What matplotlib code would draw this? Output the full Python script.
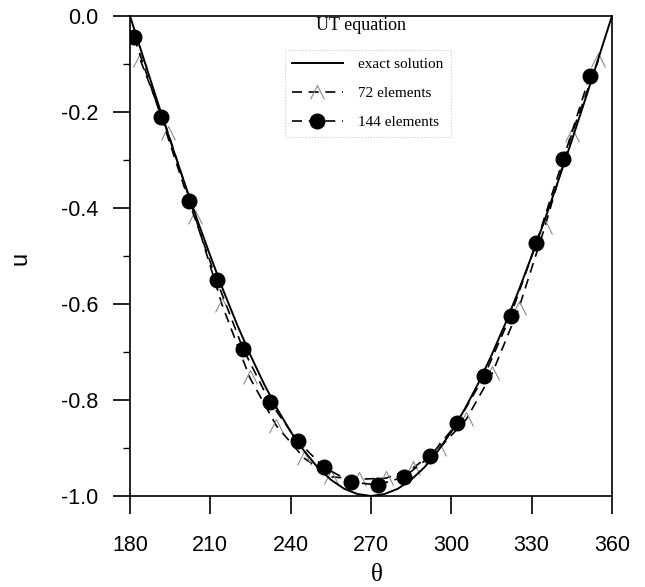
import matplotlib
matplotlib.use("Agg")
import matplotlib.pyplot as plt
from matplotlib.ticker import MultipleLocator

plt.rcParams["axes.unicode_minus"] = False

# exact solution sampled every 5 degrees
theta_exact = [180, 185, 190, 195, 200, 205, 210, 215, 220, 225, 230, 235, 240,
               245, 250, 255, 260, 265, 270, 275, 280, 285, 290, 295, 300, 305,
               310, 315, 320, 325, 330, 335, 340, 345, 350, 355, 360]
u_exact = [0.0, -0.087, -0.174, -0.259, -0.342, -0.423, -0.500, -0.574, -0.643,
           -0.707, -0.766, -0.819, -0.866, -0.906, -0.940, -0.966, -0.985, -0.996,
           -1.000, -0.996, -0.985, -0.966, -0.940, -0.906, -0.866, -0.819, -0.766,
           -0.707, -0.643, -0.574, -0.500, -0.423, -0.342, -0.259, -0.174, -0.087, 0.0]

# 72-element solution
theta_72 = [183.9, 194.3, 204.4, 214.4, 224.7, 234.7, 245.0, 255.0, 265.5,
            275.5, 285.6, 295.3, 305.6, 315.3, 325.2, 334.9, 344.9, 354.9]
u_72 = [-0.092, -0.244, -0.419, -0.602, -0.753, -0.854, -0.921, -0.960, -0.965,
        -0.963, -0.942, -0.902, -0.840, -0.744, -0.609, -0.440, -0.247, -0.092]

# 144-element solution
theta_144 = [181.5, 191.7, 202.0, 212.4, 222.2, 232.2, 242.7, 252.4, 262.6,
             272.5, 282.5, 292.2, 302.2, 312.2, 322.1, 331.8, 341.8, 351.7]
u_144 = [-0.044, -0.211, -0.386, -0.551, -0.693, -0.804, -0.886, -0.940, -0.971,
         -0.977, -0.960, -0.917, -0.848, -0.751, -0.625, -0.472, -0.298, -0.125]

x_ticks = [180, 210, 240, 270, 300, 330, 360]
y_ticks = [0.0, -0.2, -0.4, -0.6, -0.8, -1.0]

# open chevron marker (triangle without a base)
chevron = [(-1.0, -1.0), (0.0, 1.0), (1.0, -1.0)]

W, H = 645, 587
fig = plt.figure(figsize=(W / 100, H / 100), dpi=100)
ax = fig.add_axes([130 / W, 1 - 496 / H, (612 - 130) / W, (496 - 16) / H])

ax.plot(theta_exact, u_exact, color="black", lw=1.4, label="exact solution", zorder=3)
ax.plot(theta_72, u_72, color="black", lw=1.2, ls=(0, (6, 4)), marker=chevron,
        markersize=10, markerfacecolor="none", markeredgecolor="#8a8a8a",
        markeredgewidth=0.8, label="72 elements", zorder=2)
ax.plot(theta_144, u_144, color="black", lw=1.2, ls=(0, (6, 4)), marker="o",
        markersize=10.5, markerfacecolor="black", markeredgecolor="black",
        label="144 elements", zorder=4)

ax.set_xlim(180, 360)
ax.set_ylim(-1.0, 0.0)
ax.set_xticks(x_ticks)
ax.set_yticks(y_ticks)
ax.set_xticklabels([str(v) for v in x_ticks])
ax.set_yticklabels(["%.1f" % v for v in y_ticks])
ax.yaxis.set_minor_locator(MultipleLocator(0.1))

for s in ax.spines.values():
    s.set_linewidth(1.2)

ax.tick_params(axis="x", which="major", direction="out", length=13, width=1.2,
               pad=15, labelsize=15.5)
ax.tick_params(axis="y", which="major", direction="out", length=12, width=1.2,
               pad=11, labelsize=15.5)
ax.tick_params(axis="y", which="minor", direction="out", length=5, width=1.0)
for lab in ax.get_xticklabels() + ax.get_yticklabels():
    lab.set_family("Liberation Sans")

fig.text(377 / W, 1 - 575 / H, "\u03b8", family="Liberation Serif", fontsize=18,
         ha="center", va="center")
fig.text(20 / W, 1 - 258 / H, "u", family="Liberation Sans", fontsize=17,
         rotation=90, ha="center", va="center")

ax.text((361 - 130) / 482, 1 - (25 - 16) / 480, "UT equation",
        family="Liberation Serif", fontsize=13, ha="center", va="center",
        transform=ax.transAxes)

leg = ax.legend(loc="upper left", bbox_to_anchor=((277 - 130) / 482, 1 - (42 - 16) / 480),
                prop={"family": "Liberation Serif", "size": 11},
                handlelength=3.3, handletextpad=1.0, labelspacing=1.0,
                borderpad=0.5, frameon=True, fancybox=False)
frame = leg.get_frame()
frame.set_edgecolor("#bbbbbb")
frame.set_linestyle(":")
frame.set_linewidth(0.8)

fig.savefig("out.png", dpi=100)
